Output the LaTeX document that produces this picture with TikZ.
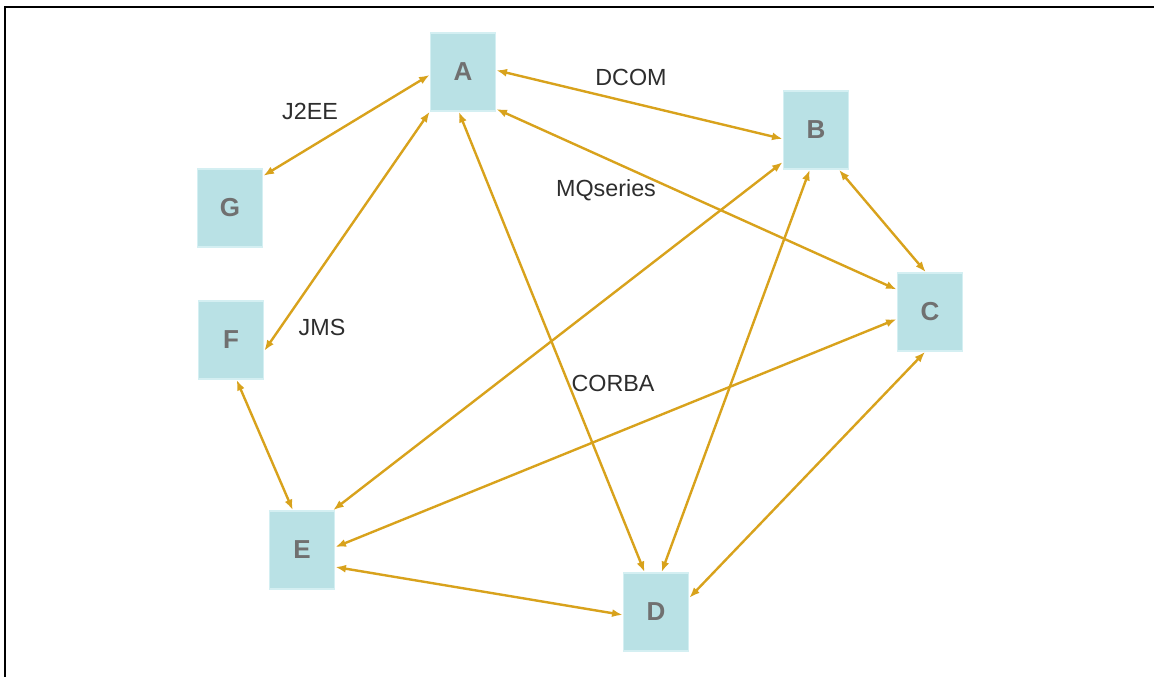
\documentclass[tikz,border=0pt]{standalone}
\usepackage{fontspec}
\setmainfont{Liberation Sans}
\usetikzlibrary{arrows.meta}
\definecolor{boxfill}{RGB}{185,225,229}
\definecolor{boxedge}{RGB}{212,239,242}
\definecolor{linkgold}{RGB}{216,162,28}
\definecolor{lettergray}{RGB}{112,112,112}
\definecolor{labelgray}{RGB}{45,45,45}
\tikzset{
  sysbox/.style={rectangle, fill=boxfill, draw=boxedge, line width=1.2pt,
    minimum width=48.75pt, minimum height=58.5pt, inner sep=0pt,
    font=\fontsize{19.5}{20}\selectfont\bfseries, text=lettergray},
  proto/.style={font=\fontsize{17.5}{18}\selectfont, text=labelgray, inner sep=0pt},
  link/.style={draw=linkgold, line width=1.8pt,
    {Latex[length=8pt,width=6pt]}-{Latex[length=8pt,width=6pt]}},
  frame/.style={line width=2.2pt, black}
}
\begin{document}
\begin{tikzpicture}[x=0.75pt,y=-0.75pt]
\useasboundingbox (0,0) rectangle (1154,677);
% outer frame (top and left edges)
\draw[frame] (5,677) -- (5,7) -- (1154,7);

% systems
\node[sysbox] (A) at (463,72)  {A};
\node[sysbox] (B) at (816,130) {B};
\node[sysbox] (C) at (930,312) {C};
\node[sysbox] (D) at (656,612) {D};
\node[sysbox] (E) at (302,550) {E};
\node[sysbox] (F) at (231,340) {F};
\node[sysbox] (G) at (230,208) {G};

% protocol labels
\node[proto] (j2ee)  at (310,111) {J2EE};
\node[proto] (dcom)  at (631,77)  {DCOM};
\node[proto] (mqs)   at (606,190) {MQseries};
\node[proto] (jms)   at (322,327) {JMS};
\node[proto] (corba) at (613,383) {CORBA};

% links
\draw[link] (A.185) -- (G.44);
\draw[link] (A.3)   -- (B.195);
\draw[link] (A.230) -- (F.342);
\draw[link] (A.312) -- (C.146);
\draw[link] (A.264) -- (D.106);
\draw[link] (B.224) -- (E.52);
\draw[link] (B.261) -- (D.82);
\draw[link] (B.300) -- (C.96);
\draw[link] (C.192) -- (E.5);
\draw[link] (C.263) -- (D.23);
\draw[link] (F.278) -- (E.103);
\draw[link] (E.333) -- (D.185);
\end{tikzpicture}
\end{document}
